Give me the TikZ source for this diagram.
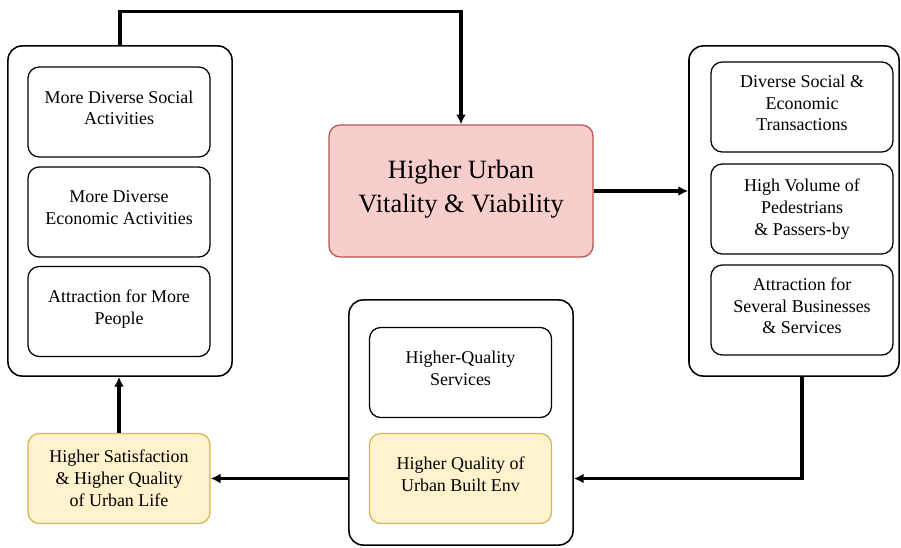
\documentclass[tikz,border=0pt]{standalone}
\usepackage{fontspec}
\setmainfont{Liberation Serif}
\usetikzlibrary{arrows.meta}

\definecolor{redfill}{HTML}{F8CECC}
\definecolor{redline}{HTML}{B85450}
\definecolor{yelfill}{HTML}{FFF2CC}
\definecolor{yelline}{HTML}{D6B656}

% lifts the text a little above the middle of its box
\newcommand{\liftup}{\\[-9.5pt]}

\begin{document}
\begin{tikzpicture}[x=0.025cm,y=-0.025cm,
  group/.style={draw,rounded corners=10pt,line width=1.1pt,minimum width=5.6cm,minimum height=8.25cm},
  item/.style={draw,rounded corners=8pt,line width=0.9pt,minimum width=4.55cm,minimum height=2.25cm,
    align=center,font=\fontsize{12.8}{15.5}\selectfont},
  hot/.style={item,fill=redfill,draw=redline,minimum width=6.6cm,minimum height=3.3cm,
    font=\fontsize{18.8}{24}\selectfont},
  warm/.style={item,fill=yelfill,draw=yelline},
  flow/.style={line width=2.2pt,-{Latex[length=7pt,width=7pt]}}]
  \useasboundingbox (0,0) rectangle (901,547);

  % left group
  \node [group] (leftbox) at (120,211) {};
  \node [item] (social) at (119,112) {More Diverse Social\\Activities\liftup};
  \node [item] (economic) at (119,212) {More Diverse\\Economic Activities\liftup};
  \node [item] (people) at (119,311.5) {Attraction for More\\People\liftup};

  % centre
  \node [hot] (vital) at (461,191) {Higher Urban\\Vitality \& Viability\\[-17pt]};

  % right group
  \node [group,minimum width=5.25cm] (rightbox) at (794,211) {};
  \node [item] (transactions) at (802,107) {Diverse Social \&\\Economic\\Transactions\liftup};
  \node [item] (pedestrians) at (802,209) {High Volume of\\Pedestrians\\\& Passers-by};
  \node [item] (business) at (802,310) {Attraction for\\Several Businesses\\\& Services\liftup};

  % bottom group
  \node [group,minimum height=6.125cm] (midbox) at (461,422.5) {};
  \node [item] (services) at (460.5,372.5) {Higher-Quality\\Services\liftup};
  \node [warm] (builtenv) at (460.5,478.5) {Higher Quality of\\Urban Built Env\liftup};

  \node [warm] (life) at (119,478.5) {Higher Satisfaction\\\& Higher Quality\\of Urban Life};

  \draw [flow] (leftbox.north) -- ++(0,-34) -| (vital.north);
  \draw [flow] (vital.east) -- (vital.east -| rightbox.west);
  \draw [flow] ([xshift=0.2cm]rightbox.south) |- (builtenv -| midbox.east);
  \draw [flow] (builtenv -| midbox.west) -- (life.east);
  \draw [flow] (life.north) -- (life.north |- leftbox.south);
\end{tikzpicture}
\end{document}
